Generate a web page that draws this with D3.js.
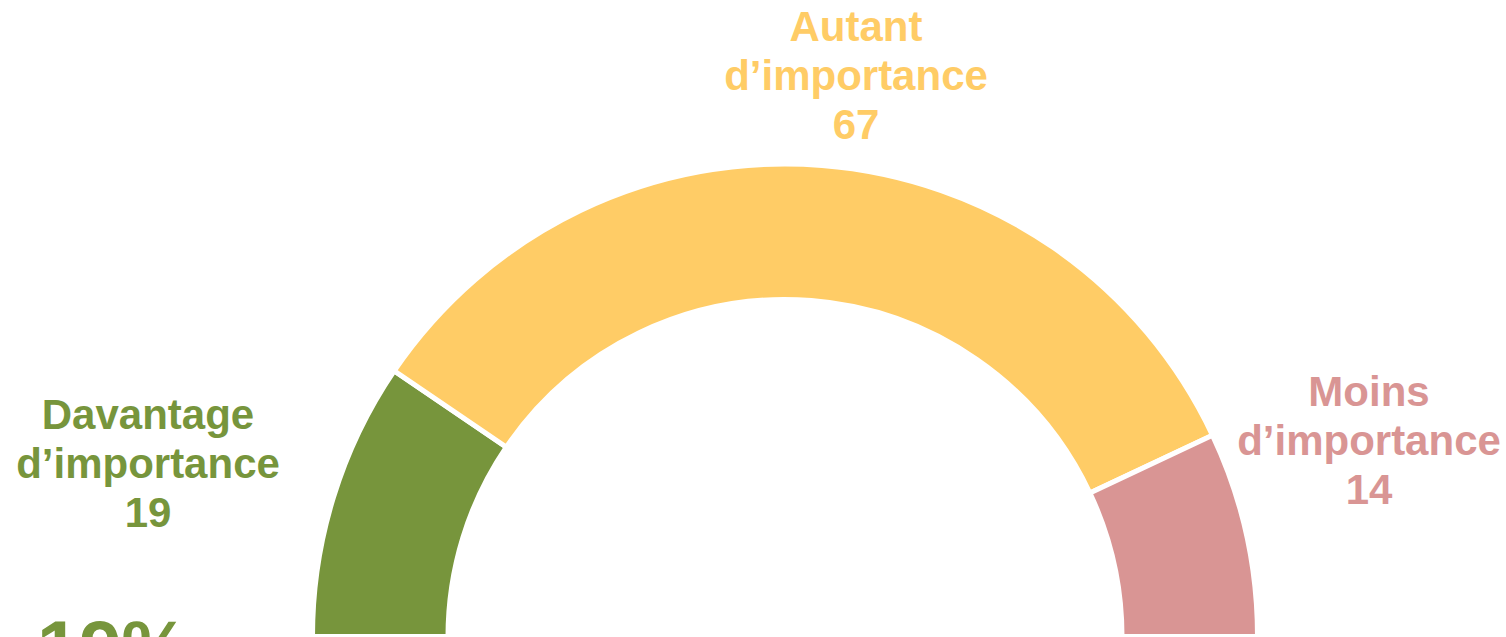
<!DOCTYPE html>
<html>
<head>
<meta charset="utf-8">
<script src="https://cdn.jsdelivr.net/npm/d3@7"></script>
<style>
  html, body { margin: 0; padding: 0; background: #fff; overflow: hidden; }
  svg { display: block; }
  text { font-family: "Liberation Sans", Arial, sans-serif; font-weight: bold; }
</style>
</head>
<body>
<svg id="chart" width="1506" height="637"></svg>
<script>
// Share of respondents by perceived importance
const categories = ["Davantage d\u2019importance", "Autant d\u2019importance", "Moins d\u2019importance"];
const labelLines = [["Davantage", "d\u2019importance"], ["Autant", "d\u2019importance"], ["Moins", "d\u2019importance"]];
const values = [19, 67, 14];
const colors = ["#77953C", "#FFCC66", "#D99594"];

const width = 1506, height = 637;
const cx = 785, cy = 636.5;
const outerR = 472.5, innerR = 337;

// Label anchor points (centre x, first baseline y) for each segment
const labelAnchors = [[148, 429], [856, 41], [1369, 406]];
const lineHeight = 49;

const svg = d3.select("#chart");

const data = categories.map((c, i) => ({ category: c, value: values[i], color: colors[i], lines: labelLines[i], anchor: labelAnchors[i] }));

const pie = d3.pie()
  .sort(null)
  .value(d => d.value)
  .startAngle(-Math.PI / 2)
  .endAngle(Math.PI / 2);

const arc = d3.arc()
  .innerRadius(innerR)
  .outerRadius(outerR);

const g = svg.append("g").attr("transform", `translate(${cx},${cy})`);

g.selectAll("path")
  .data(pie(data))
  .join("path")
  .attr("d", arc)
  .attr("fill", d => d.data.color)
  .attr("stroke", "#fff")
  .attr("stroke-width", 5)
  .attr("stroke-linejoin", "miter");

// Segment labels: name over two lines, then the value
const labels = svg.selectAll("text.seg")
  .data(data)
  .join("text")
  .attr("class", "seg")
  .attr("text-anchor", "middle")
  .attr("font-size", 42)
  .attr("fill", d => d.color);

labels.each(function (d) {
  const t = d3.select(this);
  const rows = d.lines.concat([String(d.value)]);
  rows.forEach((r, k) => {
    t.append("tspan")
      .attr("x", d.anchor[0])
      .attr("y", d.anchor[1] + k * lineHeight)
      .text(r);
  });
});

// Headline share for the first segment
const total = d3.sum(values);
const pct = d3.format(".0%")(values[0] / total);
svg.append("text")
  .attr("x", 37)
  .attr("y", 674)
  .attr("font-size", 76)
  .attr("fill", colors[0])
  .text(pct);
</script>
</body>
</html>
